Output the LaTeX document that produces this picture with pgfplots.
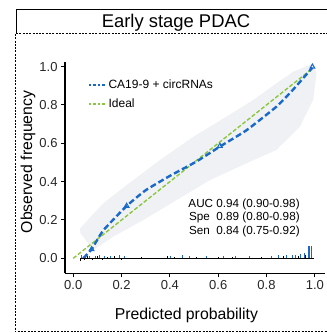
\documentclass[border=0pt]{standalone}
\usepackage{pgfplots}
\pgfplotsset{compat=1.18}
\usepackage{fontspec}
\setmainfont{Liberation Sans}
\definecolor{cblue}{RGB}{25,105,200}
\definecolor{cgreen}{RGB}{140,198,63}
\definecolor{band}{RGB}{240,241,244}
\begin{document}
\begin{tikzpicture}
\useasboundingbox (0bp,0bp) rectangle (327bp,333bp);
\draw[line width=1bp] (16bp,299bp) -- (16bp,323bp) -- (327bp,323bp);
\draw[line width=1bp, dash pattern=on 2bp off 1.3bp] (16bp,299bp) -- (327bp,299bp);
\draw[line width=1bp, dash pattern=on 2bp off 1.3bp] (15bp,299bp) -- (15bp,1.5bp) -- (327bp,1.5bp);
\node[font=\fontsize{18.4bp}{20bp}\selectfont] at (176bp,310bp) {Early stage PDAC};
\begin{axis}[
  at={(65bp,59.7bp)}, anchor=south west,
  scale only axis, width=260bp, height=211.3bp,
  xmin=-0.034, xmax=1.042, ymin=-0.078, ymax=1.024,
  axis x line*=bottom, axis y line*=left,
  axis line style={line width=1.1bp, -},
  tick align=outside, major tick length=4bp,
  every tick/.style={black, line width=1bp},
  xtick={0,0.2,0.4,0.6,0.8,1.0}, ytick={0,0.2,0.4,0.6,0.8,1.0},
  xticklabel style={/pgf/number format/fixed, /pgf/number format/fixed zerofill, /pgf/number format/precision=1},
  yticklabel style={/pgf/number format/fixed, /pgf/number format/fixed zerofill, /pgf/number format/precision=1},
  /pgf/number format/assume math mode=true,
  tick label style={font=\fontsize{13bp}{15bp}\selectfont, text=black!85},
  xlabel={Predicted probability}, ylabel={Observed frequency},
  label style={font=\fontsize{15.8bp}{18bp}\selectfont},
  xlabel style={at={(axis description cs:0.467,-0.2)}, anchor=center},
  ylabel style={at={(axis description cs:-0.142,0.527)}, anchor=center, rotate=0},
  legend style={at={(axis description cs:0.075,0.935)}, anchor=north west, draw=none, fill=none,
     font=\fontsize{12bp}{14bp}\selectfont, row sep=5bp},
  legend cell align=left, reverse legend,
  clip=false,
]
\addplot[fill=band, draw=none, forget plot] coordinates {
 (0.028,0.156) (0.124,0.287) (0.221,0.382) (0.359,0.513) (0.497,0.634) (0.634,0.739)
 (0.745,0.826) (0.841,0.913) (0.91,0.973) (0.993,1.017)
 (1.007,0.965) (0.993,0.826) (0.938,0.686) (0.841,0.565) (0.717,0.496) (0.566,0.408)
 (0.428,0.304) (0.29,0.2) (0.166,0.113) (0.083,0.043) (0.03,0.13)} -- cycle;
\addplot[cgreen, line width=1.4bp, dash pattern=on 4bp off 2bp,
  legend image code/.code={\draw[cgreen, line width=2bp, dash pattern=on 2.7bp off 1.7bp] (0bp,0bp) -- (16.7bp,0bp);}]
  coordinates {(0,0) (0.99,0.99)};
\addplot[cblue, line width=2.4bp, dash pattern=on 6bp off 3bp, smooth, tension=0.3,
  legend image code/.code={\draw[cblue, line width=2.2bp, dash pattern=on 2.7bp off 1.7bp] (0bp,0bp) -- (16.7bp,0bp);}]
  coordinates {(0.041,0) (0.076,0.047) (0.124,0.145) (0.221,0.273) (0.30,0.355) (0.40,0.43)
   (0.51,0.505) (0.607,0.583) (0.717,0.668) (0.84,0.79) (0.91,0.88) (0.99,0.995)};
\addplot[cblue, only marks, mark=triangle, mark size=2.8bp, mark options={line width=1bp, solid}, forget plot]
  coordinates {(0.076,0.047) (0.221,0.273) (0.607,0.586) (0.99,0.999)};
\addplot[black, line width=0.8bp, forget plot] coordinates {(0.03,0) (0.995,0)};
\addplot[cblue, ycomb, line width=0.7bp, forget plot] coordinates {
 (0.035,0.02) (0.05,0.015) (0.065,0.012) (0.09,0.012) (0.11,0.015) (0.13,0.01) (0.155,0.01)
 (0.19,0.015) (0.21,0.012) (0.4,0.012) (0.45,0.015) (0.48,0.012) (0.55,0.01) (0.62,0.01)
 (0.67,0.012) (0.73,0.01) (0.82,0.012) (0.85,0.015) (0.88,0.015) (0.905,0.02) (0.92,0.02)
 (0.94,0.025) (0.955,0.03) (0.972,0.066) (0.979,0.066) (0.986,0.066)};
\addplot[black, ycomb, line width=0.7bp, forget plot] coordinates {
 (0.03,-0.012) (0.045,-0.01) (0.06,0.01) (0.08,-0.008) (0.1,0.01) (0.12,-0.01) (0.14,0.008)
 (0.17,0.012) (0.2,-0.01) (0.28,0.008) (0.39,0.01) (0.42,0.008) (0.51,0.008) (0.6,0.008)
 (0.66,0.008) (0.78,0.008) (0.87,0.01) (0.93,0.012) (0.96,0.015)};
\legend{Ideal, CA19-9 + circRNAs}
\node[anchor=base east, font=\fontsize{11.7bp}{13.5bp}\selectfont, inner sep=0] at (axis cs:0.938,0.265) {AUC 0.94 (0.90-0.98)};
\node[anchor=base east, font=\fontsize{11.7bp}{13.5bp}\selectfont, inner sep=0] at (axis cs:0.938,0.195) {Spe\ \ 0.89 (0.80-0.98)};
\node[anchor=base east, font=\fontsize{11.7bp}{13.5bp}\selectfont, inner sep=0] at (axis cs:0.938,0.123) {Sen\ \ 0.84 (0.75-0.92)};
\end{axis}
\end{tikzpicture}
\end{document}
